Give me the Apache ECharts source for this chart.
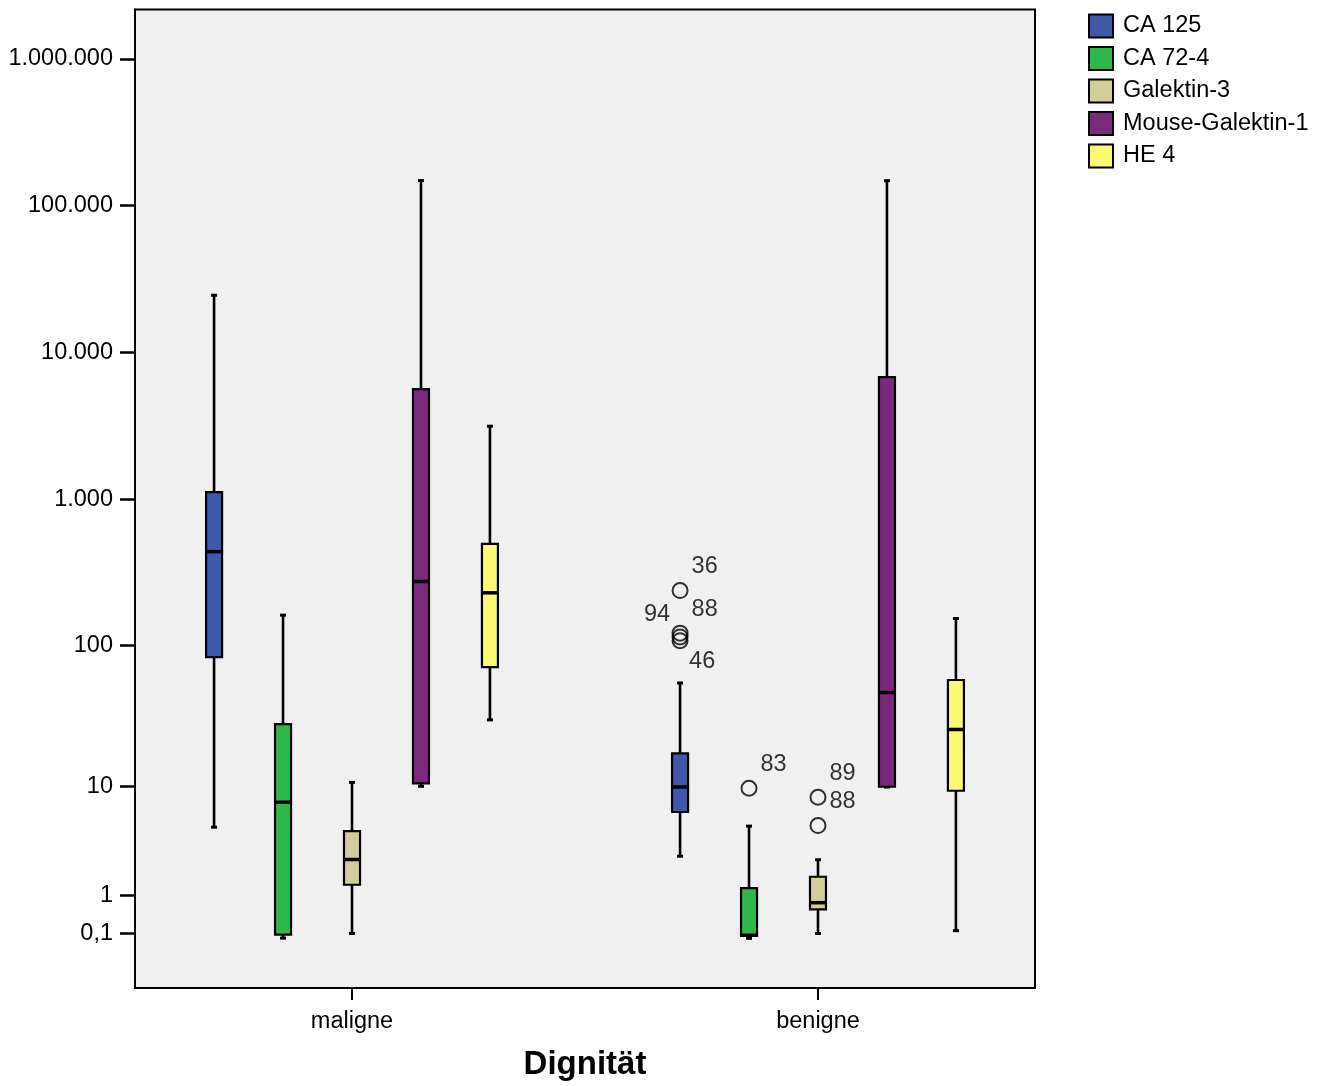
<!DOCTYPE html>
<html><head><meta charset="utf-8">
<script src="https://cdn.jsdelivr.net/npm/echarts@6/dist/echarts.min.js"></script>
<style>html,body{margin:0;padding:0;background:#fff}#c{width:1328px;height:1086px}</style>
</head><body><div id="c"></div>
<script>
// ---------- data ----------
const groups = ['maligne', 'benigne'];
const seriesNames = ['CA 125', 'CA 72-4', 'Galektin-3', 'Mouse-Galektin-1', 'HE 4'];
const colors = ['#3E58AC', '#2EB848', '#D3CE97', '#7C287D', '#FBF873'];
// per group: [min, Q1, median, Q3, max]
const ca125 = [[4.83, 83.1, 438.6, 1118, 24520], [2.70, 6.40, 9.95, 17.55, 55.0]];
const ca724 = [[0.023, 0.081, 7.62, 28.35, 161.3], [0.02, 0.06, 0.07, 1.245, 4.93]];
const galektin3 = [[0.1, 1.363, 2.51, 4.475, 10.78], [0.1, 0.607, 0.784, 1.68, 2.50]];
const mouseGalektin1 = [[10.07, 10.6, 274, 5633, 148200], [9.95, 10.0, 47.2, 6795, 148000]];
const he4 = [[30.4, 70.9, 229.4, 495, 3143], [0.15, 9.33, 26.0, 57.7, 153]];
const allBoxes = [ca125, ca724, galektin3, mouseGalektin1, he4];
// outliers: [seriesIndex, groupIndex, value, case number]
const outliers = [
  [0, 1, 237.8, '36'],
  [0, 1, 121.4, '88'],
  [0, 1, 114.4, '94'],
  [0, 1, 107.7, '46'],
  [1, 1, 9.74, '83'],
  [2, 1, 8.33, '89'],
  [2, 1, 4.98, '88']
];
const outlierLabelSide = ['tr', 'tr', 'l', 'br', 'tr', 'tr', 'tr'];
const yTickValues = [0.1, 1, 10, 100, 1000, 10000, 100000, 1000000];
const yTickLabels = ['0,1', '1', '10', '100', '1.000', '10.000', '100.000', '1.000.000'];

// ---------- scale (SPSS safe-log: log10(1+x)) ----------
const tf = v => Math.log10(1 + v);
const OFFSET = 0.148;           // horizontal spacing of series within a group (axis units)
const FONT = "'Liberation Sans', Arial, Helvetica, sans-serif";
const FS = 23.5;

function makeRender(si) {
  return function (params, api) {
    const x = api.value(0) + (si - 2) * OFFSET;
    const pMin = api.coord([x, api.value(1)]);
    const pQ1 = api.coord([x, api.value(2)]);
    const pMed = api.coord([x, api.value(3)]);
    const pQ3 = api.coord([x, api.value(4)]);
    const pMax = api.coord([x, api.value(5)]);
    const cx = pMin[0];
    const hw = 8;
    return {
      type: 'group',
      children: [
        { type: 'line', shape: { x1: cx, y1: pMin[1], x2: cx, y2: pMax[1] }, style: { stroke: '#000', lineWidth: 2.6 } },
        { type: 'rect', shape: { x: cx - 3, y: pMin[1] - 1.5, width: 6, height: 3 }, style: { fill: '#000' } },
        { type: 'rect', shape: { x: cx - 3, y: pMax[1] - 1.5, width: 6, height: 3 }, style: { fill: '#000' } },
        { type: 'rect', shape: { x: cx - hw, y: pQ3[1], width: 2 * hw, height: pQ1[1] - pQ3[1] },
          style: { fill: colors[si], stroke: '#000', lineWidth: 2.2 } },
        { type: 'line', shape: { x1: cx - hw - 1, y1: pMed[1], x2: cx + hw + 1, y2: pMed[1] }, style: { stroke: '#000', lineWidth: 3.5 } }
      ]
    };
  };
}

const series = seriesNames.map((name, si) => ({
  name: name,
  type: 'custom',
  itemStyle: { color: colors[si] },
  renderItem: makeRender(si),
  encode: { x: 0, y: [1, 2, 3, 4, 5] },
  data: allBoxes[si].map((b, gi) => [gi].concat(b.map(tf))),
  z: 2
}));

const labelCfg = {
  tr: { position: 'right', distance: 3, offset: [0, -24] },
  l: { position: 'left', distance: 1.5, offset: [0, -22] },
  br: { position: 'right', distance: 0.5, offset: [0, 21] }
};

series.push({
  name: 'Ausreißer',
  type: 'scatter',
  symbol: 'circle',
  symbolSize: 15,
  itemStyle: { color: 'rgba(0,0,0,0)', borderColor: '#000', borderWidth: 2 },
  z: 3,
  data: outliers.map((o, i) => ({
    value: [o[1] + (o[0] - 2) * OFFSET, tf(o[2]), o[3]],
    label: Object.assign({ show: true, formatter: p => p.value[2], fontSize: FS, color: '#000', fontFamily: FONT }, labelCfg[outlierLabelSide[i]])
  }))
});

const chart = echarts.init(document.getElementById('c'), null, { renderer: 'canvas' });
chart.setOption({
  animation: false,
  backgroundColor: '#fff',
  textStyle: { fontFamily: FONT },
  grid: { left: 135, top: 9.5, width: 900, height: 981, show: true, backgroundColor: '#f0f0f0', borderColor: '#000', borderWidth: 2 },
  legend: {
    orient: 'vertical', left: 1083, top: 8.5,
    itemWidth: 24, itemHeight: 23, itemGap: 7.5,
    icon: 'rect',
    data: seriesNames,
    itemStyle: { borderColor: '#000', borderWidth: 2 },
    textStyle: { fontSize: FS, color: '#000', fontFamily: FONT, padding: [0, 0, 0, 5] },
    selectedMode: false
  },
  xAxis: {
    type: 'value', min: -0.4657, max: 1.4657,
    axisLine: { show: true, onZero: false, lineStyle: { color: '#000', width: 2 } },
    axisTick: { show: true, customValues: [0, 1], length: 12, lineStyle: { color: '#000', width: 2 } },
    axisLabel: { customValues: [0, 1], formatter: v => groups[Math.round(v)], fontSize: FS, color: '#000', margin: 22, fontFamily: FONT },
    splitLine: { show: false },
    name: 'Dignität', nameLocation: 'middle', nameGap: 60,
    nameTextStyle: { fontSize: 33, fontWeight: 'bold', color: '#000', fontFamily: FONT }
  },
  yAxis: {
    type: 'value', min: -0.3298, max: 6.3364,
    axisLine: { show: true, onZero: false, lineStyle: { color: '#000', width: 2 } },
    axisTick: { show: true, customValues: yTickValues.map(tf), length: 15, lineStyle: { color: '#000', width: 2.5 } },
    axisLabel: {
      customValues: yTickValues.map(tf),
      formatter: function (v) {
        let best = 0, bd = Infinity;
        yTickValues.forEach((t, i) => { const d = Math.abs(tf(t) - v); if (d < bd) { bd = d; best = i; } });
        return yTickLabels[best];
      },
      fontSize: FS, color: '#000', margin: 22, fontFamily: FONT
    },
    splitLine: { show: false }
  },
  series: series
});
</script>
</body></html>
